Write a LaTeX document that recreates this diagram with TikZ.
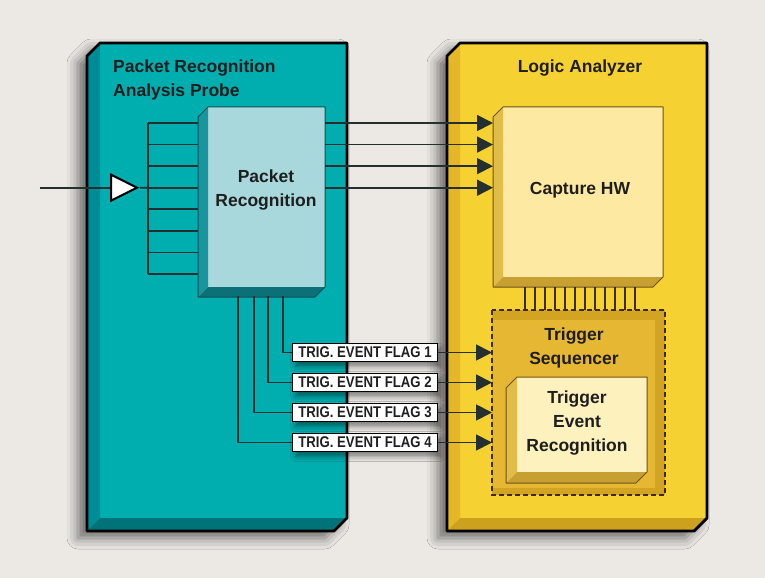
\documentclass[tikz,border=0pt]{standalone}
\usepackage{fontspec}
\setmainfont{Liberation Sans}
\newfontfamily\condfont[FakeStretch=0.85]{Liberation Sans}
\usetikzlibrary{arrows.meta,shapes.geometric,shadows.blur,calc}
\definecolor{bgc}{RGB}{236,233,229}
\definecolor{tealF}{RGB}{0,174,176}
\definecolor{tealS}{RGB}{0,140,150}
\definecolor{tealB}{RGB}{0,115,120}
\definecolor{pkF}{RGB}{168,216,220}
\definecolor{pkS}{RGB}{24,150,160}
\definecolor{pkB}{RGB}{12,112,120}
\definecolor{pkO}{RGB}{10,80,86}
\definecolor{yelF}{RGB}{246,209,50}
\definecolor{yelS}{RGB}{228,182,40}
\definecolor{yelB}{RGB}{205,160,30}
\definecolor{capF}{RGB}{253,233,162}
\definecolor{capS}{RGB}{226,188,72}
\definecolor{capB}{RGB}{200,160,50}
\definecolor{capO}{RGB}{110,82,16}
\definecolor{terF}{RGB}{253,241,190}
\definecolor{seqD}{RGB}{210,164,34}
\definecolor{seqL}{RGB}{230,183,50}
\definecolor{dashc}{RGB}{58,44,8}
\definecolor{txt}{RGB}{30,30,30}
\definecolor{wirec}{RGB}{36,48,48}
\definecolor{busc}{RGB}{60,42,5}
\newcommand\solidbox[6]{%
 \path[#6] (#1.north west) -- (#1.north east) -- (#1.south east) -- ([shift={(-#2,#2)}]#1.south east) -- ([shift={(-#2,#2)}]#1.south west) -- ([shift={(-#2,#2)}]#1.north west) -- cycle;
 \fill[#3] (#1.north west) -- (#1.south west) -- ([shift={(-#2,#2)}]#1.south west) -- ([shift={(-#2,#2)}]#1.north west) -- cycle;
 \fill[#4] (#1.south west) -- (#1.south east) -- ([shift={(-#2,#2)}]#1.south east) -- ([shift={(-#2,#2)}]#1.south west) -- cycle;
 \draw[#5] (#1.north west) -- (#1.north east) -- (#1.south east) -- ([shift={(-#2,#2)}]#1.south east) -- ([shift={(-#2,#2)}]#1.south west) -- ([shift={(-#2,#2)}]#1.north west) -- cycle;
}
\begin{document}
\begin{tikzpicture}[x=1bp,y=-1bp,
  face/.style={inner sep=0,outer sep=0,rectangle,anchor=north west},
  lbl/.style={text=txt,font=\bfseries\fontsize{17.5bp}{24bp}\selectfont,align=center,inner sep=0},
  wire/.style={draw=wirec,line width=1.8bp},
  arr/.style={wire,-{Triangle[length=16bp,width=16bp]}},
  flag/.style={draw=black,line width=1.4bp,fill=white,inner sep=0,minimum width=145bp,minimum height=18bp,
    text=txt,font=\condfont\bfseries\fontsize{15.5bp}{16bp}\selectfont,
    blur shadow={shadow xshift=3bp,shadow yshift=-5bp,shadow blur radius=5bp,shadow opacity=45}},
  bigshadow/.style={blur shadow={shadow xshift=-9bp,shadow yshift=-7bp,shadow blur radius=11bp,shadow opacity=55}},
  bus/.style={draw=busc,line width=1.5bp}
]
\fill[bgc] (0,0) rectangle (765,578);
\useasboundingbox (0,0) rectangle (765,578);
% placement of the front faces
\node[face,minimum width=247bp,minimum height=475bp] (probe) at (100,43) {};
\node[face,minimum width=117bp,minimum height=180bp] (pk) at (208,107) {};
\node[face,minimum width=247bp,minimum height=475bp] (la) at (460,43) {};
\node[face,minimum width=160bp,minimum height=170bp] (cap) at (503,107) {};
\node[face,minimum width=173bp,minimum height=185bp] (seq) at (492,310) {};
\node[face,minimum width=130bp,minimum height=95bp] (ter) at (517,377) {};
% probe block
\solidbox{probe}{13}{tealS}{tealB}{line width=2.8bp,line join=round}{fill=tealF,bigshadow}
\node[lbl,align=left,anchor=west] (ptitle) at (113,80) {Packet Recognition\\Analysis Probe};
% input bus
\foreach \i in {0,...,7} \coordinate (b\i) at (148,{123+21.57*\i});
\draw[wire] (b0) -- (b7);
\foreach \i in {0,...,7} \draw[wire] (b\i) -- (b\i -| pk.west);
\coordinate (in) at (40,187.7);
\node[isosceles triangle,isosceles triangle stretches,minimum width=26bp,minimum height=26bp,
  draw=black,line width=2bp,fill=white,inner sep=0,anchor=west] (buf) at (110,187.7) {};
\draw[wire] (in) -- (buf.west);
\draw[wire] (buf.apex) -- (b3);
% packet recognition
\solidbox{pk}{10}{pkS}{pkB}{draw=pkO,line width=1bp,line join=round}{fill=pkF}
\node[lbl] (pktxt) at (266,190) {Packet\\Recognition};
% logic analyzer
\solidbox{la}{13}{yelS}{yelB}{line width=2.8bp,line join=round}{fill=yelF,bigshadow}
\node[lbl] (latitle) at (580,68) {Logic Analyzer};
% capture HW
\solidbox{cap}{10}{capS}{capB}{draw=capO,line width=1bp,line join=round}{fill=capF}
\node[lbl] (captxt) at (580,190) {Capture HW};
\coordinate (capL) at ($(cap.west)+(-10,0)$);
% trigger sequencer
\fill[seqD] (seq.north west) rectangle (seq.south east);
\fill[seqL] ($(seq.north west)+(1,10)$) rectangle ($(seq.south east)+(-10,-7)$);
\draw[draw=dashc,line width=2bp,dash pattern=on 5bp off 3bp] (seq.north west) rectangle (seq.south east);
\foreach \i in {0,...,11} \draw[bus] ($(seq.north west)+({33+10*\i},0)$) -- ++(0,-23);
\node[lbl] (seqtxt) at (574,348) {Trigger\\Sequencer};
\solidbox{ter}{11}{capS}{capB}{draw=capO,line width=1bp,line join=round}{fill=terF}
\node[lbl] (tertxt) at (577,423) {Trigger\\Event\\Recognition};
% outputs to capture
\foreach \i in {0,...,3} \draw[arr] (b\i -| pk.east) -- (b\i -| capL);
% flags
\coordinate (f1) at (283,296);
\coordinate (f2) at (268,296);
\coordinate (f3) at (254,296);
\coordinate (f4) at (238,296);
\node[flag] (flag1) at (365,352.5) {TRIG. EVENT FLAG 1};
\node[flag] (flag2) at (365,382.5) {TRIG. EVENT FLAG 2};
\node[flag] (flag3) at (365,412.5) {TRIG. EVENT FLAG 3};
\node[flag] (flag4) at (365,442.5) {TRIG. EVENT FLAG 4};
\foreach \i in {1,...,4} {
  \draw[wire] (f\i) |- (flag\i.west);
  \draw[arr] (flag\i.east) -- (flag\i.east -| seq.west);
}
\end{tikzpicture}
\end{document}
